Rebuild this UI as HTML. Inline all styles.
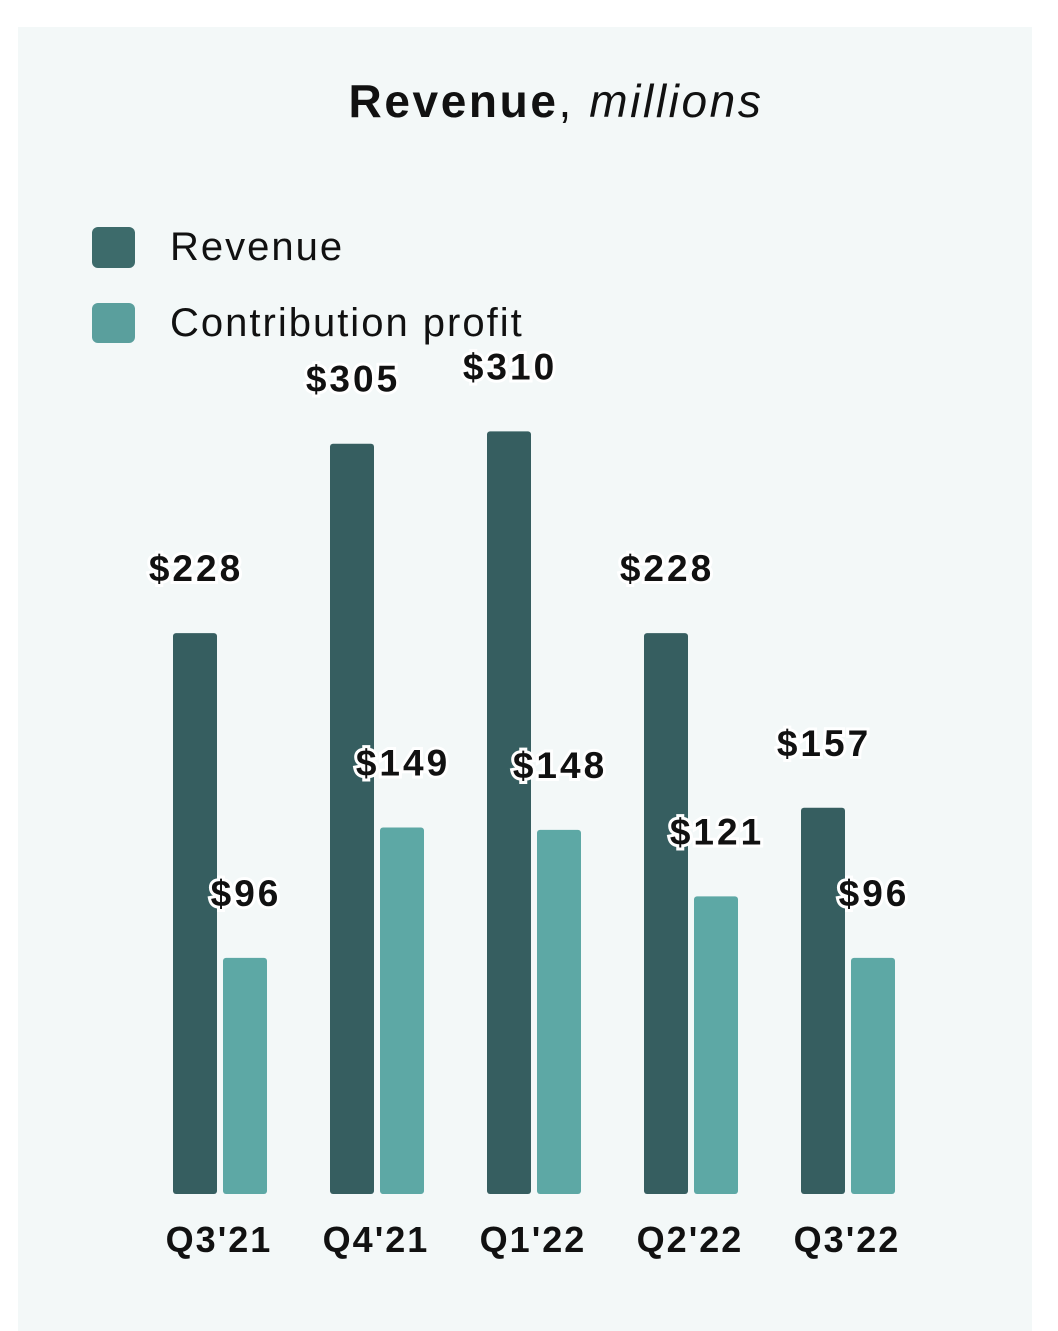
<!DOCTYPE html>
<html><head><meta charset="utf-8"><style>
body{margin:0;background:#fff;width:1058px;height:1331px;overflow:hidden;font-family:"Liberation Sans",sans-serif}
#panel{position:absolute;left:18px;top:27px;width:1014px;height:1304px;background:#f3f8f8}
</style></head><body>
<div id="panel"></div>
<svg id="chart" width="1058" height="1331" style="position:absolute;left:0;top:0">
<text x="556" y="117" text-anchor="middle" font-size="46" letter-spacing="2.6" fill="#111"><tspan font-weight="bold">Revenue</tspan><tspan>, </tspan><tspan font-style="italic">millions</tspan></text>
<rect x="92" y="227" width="43" height="41" rx="6" fill="#3d6b6b"/>
<text x="170" y="260" font-size="40" letter-spacing="2" fill="#111">Revenue</text>
<rect x="92" y="303" width="43" height="40" rx="6" fill="#5a9f9d"/>
<text x="170" y="336" font-size="40" letter-spacing="2" fill="#111">Contribution profit</text>
<g id="bars"></g>
</svg>
<script>
const categories=["Q3'21","Q4'21","Q1'22","Q2'22","Q3'22"];
const revenue=[228,305,310,228,157];
const contribution=[96,149,148,121,96];
const base=1194, scale=2.46, x0=173, step=157, bw=44, gap=6;
const y=v=>base-v*scale;
const g=document.getElementById('bars');
const NS='http://www.w3.org/2000/svg';
function bar(x,v,color,name){
  const r=document.createElementNS(NS,'rect');
  r.setAttribute('x',x);r.setAttribute('y',y(v));r.setAttribute('width',bw);r.setAttribute('height',v*scale);
  r.setAttribute('rx',3);r.setAttribute('fill',color);
  
  
  g.appendChild(r);
  const t=document.createElementNS(NS,'text');
  t.setAttribute('x',x+bw/2+1);t.setAttribute('y',y(v)-52);t.setAttribute('text-anchor','middle');
  t.setAttribute('font-size','37');t.setAttribute('font-weight','bold');t.setAttribute('fill','#111');
  t.setAttribute('letter-spacing','3');
  t.setAttribute('stroke','#fff');t.setAttribute('stroke-width','6');t.setAttribute('paint-order','stroke');
  t.textContent='$'+v;
  
  
  g.appendChild(t);
}
categories.forEach((c,i)=>{
  const x=x0+i*step;
  bar(x,revenue[i],'#365e60','revenue-bar-'+i);
  bar(x+bw+gap,contribution[i],'#5da8a5','contribution-bar-'+i);
  const t=document.createElementNS(NS,'text');
  t.setAttribute('x',x+bw+gap/2-1);t.setAttribute('y',1252);t.setAttribute('text-anchor','middle');
  t.setAttribute('font-size','36');t.setAttribute('font-weight','bold');t.setAttribute('fill','#111');
  t.setAttribute('letter-spacing','2');
  t.textContent=c;
  
  
  g.appendChild(t);
});
</script>
</body></html>
